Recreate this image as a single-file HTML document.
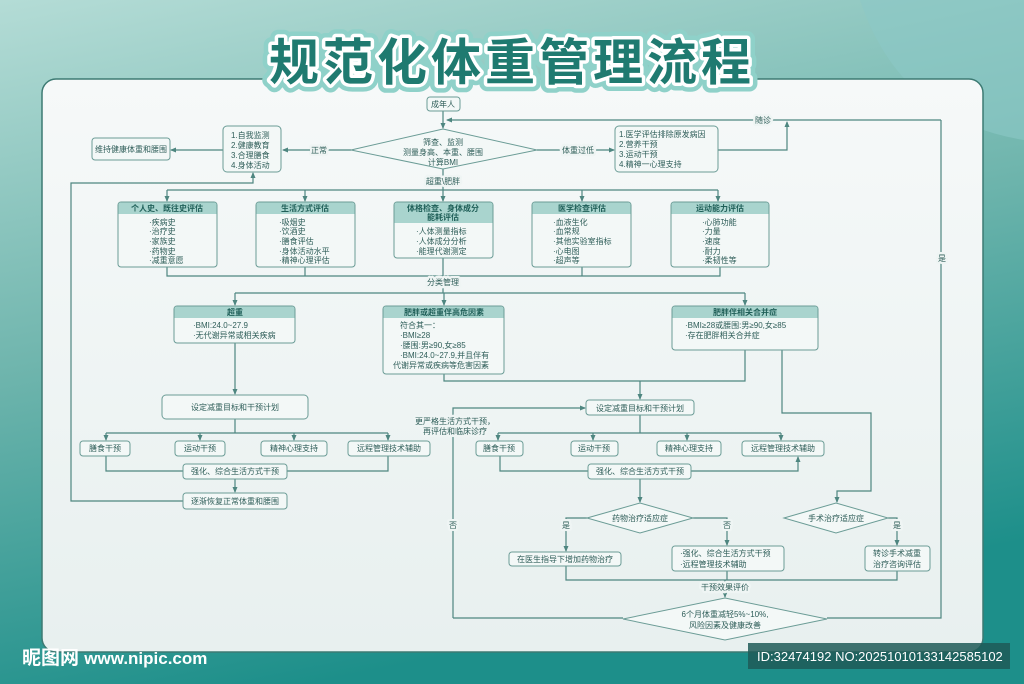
<!DOCTYPE html>
<html><head><meta charset="utf-8">
<style>
html,body{margin:0;padding:0;width:1024px;height:684px;overflow:hidden}
svg text{font-family:"Liberation Sans","Noto Sans CJK SC",sans-serif}
.lb{stroke:#eff5f4;stroke-width:5;paint-order:stroke;stroke-linejoin:round}
</style></head>
<body>
<svg width="1024" height="684" viewBox="0 0 1024 684" xmlns="http://www.w3.org/2000/svg">
<defs>
<linearGradient id="bg" x1="0" y1="0" x2="0.3" y2="1">
<stop offset="0" stop-color="#b4dcd6"/><stop offset="0.5" stop-color="#6fb5ad"/><stop offset="1" stop-color="#1d8f8a"/>
</linearGradient>
<linearGradient id="pn" x1="0" y1="0" x2="0" y2="1">
<stop offset="0" stop-color="#f6f9f9"/><stop offset="1" stop-color="#e8f0ef"/>
</linearGradient>
<marker id="a" viewBox="0 0 6 6" refX="5" refY="3" markerWidth="5" markerHeight="5" orient="auto"><path d="M0,0.5 L6,3 L0,5.5z" fill="#4e8680"/></marker>
</defs>
<rect width="1024" height="684" fill="url(#bg)"/>
<path d="M860 0 Q900 120 1024 140 L1024 0Z" fill="#8cc8c6" opacity="0.6"/>
<rect x="42" y="79" width="941" height="573" rx="14" fill="url(#pn)" stroke="#3d7a73" stroke-width="1.5"/>

<!-- title -->
<g font-size="50" font-weight="bold" text-anchor="middle">
<text x="512" y="80" fill="#2a8f86" stroke="#8fd1c9" stroke-width="16" stroke-linejoin="round" letter-spacing="4">规范化体重管理流程</text>
<text x="512" y="80" fill="#1f7a70" stroke="#ffffff" stroke-width="7" stroke-linejoin="round" paint-order="stroke" letter-spacing="4">规范化体重管理流程</text>
</g>

<g fill="none" stroke="#4e8680" stroke-width="1.2">
<path d="M443 111 V128" marker-end="url(#a)"/>
<path d="M941 120 H447" marker-end="url(#a)"/>
<path d="M351 150 H283" marker-end="url(#a)"/>
<path d="M223 150 H171" marker-end="url(#a)"/>
<path d="M537 150 H614" marker-end="url(#a)"/>
<path d="M718 150 H787 V122" marker-end="url(#a)"/>
<path d="M183 501 H71 V183 H253 V173" marker-end="url(#a)"/>
<path d="M443 169 V190"/>
<path d="M167 190 H718"/>
<path d="M167 190 V201" marker-end="url(#a)"/>
<path d="M305 190 V201" marker-end="url(#a)"/>
<path d="M443 190 V201" marker-end="url(#a)"/>
<path d="M582 190 V201" marker-end="url(#a)"/>
<path d="M718 190 V201" marker-end="url(#a)"/>
<path d="M167 267 V276 H720 V267 M305 267 V276 M443 258 V293 M582 267 V276"/>
<path d="M235 293 H745"/>
<path d="M235 293 V305" marker-end="url(#a)"/>
<path d="M444 293 V305" marker-end="url(#a)"/>
<path d="M745 293 V305" marker-end="url(#a)"/>
<path d="M235 343 V394" marker-end="url(#a)"/>
<path d="M235 419 V433 M106 433 H388"/>
<path d="M106 433 V440" marker-end="url(#a)"/>
<path d="M200 433 V440" marker-end="url(#a)"/>
<path d="M294 433 V440" marker-end="url(#a)"/>
<path d="M388 433 V440" marker-end="url(#a)"/>
<path d="M106 456 V471 H183 M388 456 V471 H287"/>
<path d="M235 479 V492" marker-end="url(#a)"/>
<path d="M444 374 V381 H745 V350"/>
<path d="M640 381 V399" marker-end="url(#a)"/>
<path d="M453 618 V408 H585" marker-end="url(#a)"/>
<path d="M640 415 V433 M498 433 H781"/>
<path d="M498 433 V440" marker-end="url(#a)"/>
<path d="M593 433 V440" marker-end="url(#a)"/>
<path d="M687 433 V440" marker-end="url(#a)"/>
<path d="M781 433 V440" marker-end="url(#a)"/>
<path d="M500 456 V471 H588"/>
<path d="M691 471 H798 V457" marker-end="url(#a)"/>
<path d="M640 479 V502" marker-end="url(#a)"/>
<path d="M782 350 V413 H871 V491 H837 V502" marker-end="url(#a)"/>
<path d="M587 518 H566 V551" marker-end="url(#a)"/>
<path d="M693 518 H727 V545" marker-end="url(#a)"/>
<path d="M888 518 H897 V545" marker-end="url(#a)"/>
<path d="M566 566 V580 H897 V571 M727 571 V580"/>
<path d="M725 580 V597" marker-end="url(#a)"/>
<path d="M623 618 H453"/>
<path d="M827 618 H941 V120"/>
</g>

<g fill="#f3f8f7" stroke="#6b9c96" stroke-width="1">
<rect x="427" y="97" width="33" height="14" rx="3"/>
<rect x="223" y="126" width="58" height="46" rx="4"/>
<rect x="92" y="138" width="78" height="22" rx="3"/>
<rect x="615" y="126" width="103" height="46" rx="4"/>
<rect x="118" y="202" width="99" height="65" rx="3"/>
<rect x="256" y="202" width="99" height="65" rx="3"/>
<rect x="394" y="202" width="99" height="56" rx="3"/>
<rect x="532" y="202" width="99" height="65" rx="3"/>
<rect x="671" y="202" width="98" height="65" rx="3"/>
<rect x="174" y="306" width="121" height="37" rx="3"/>
<rect x="383" y="306" width="121" height="68" rx="3"/>
<rect x="672" y="306" width="146" height="44" rx="3"/>
<rect x="162" y="395" width="146" height="24" rx="4"/>
<rect x="80" y="441" width="50" height="15" rx="3"/>
<rect x="175" y="441" width="50" height="15" rx="3"/>
<rect x="261" y="441" width="66" height="15" rx="3"/>
<rect x="348" y="441" width="82" height="15" rx="3"/>
<rect x="183" y="464" width="104" height="15" rx="3"/>
<rect x="183" y="493" width="104" height="16" rx="3"/>
<rect x="586" y="400" width="108" height="15" rx="3"/>
<rect x="476" y="441" width="47" height="15" rx="3"/>
<rect x="571" y="441" width="47" height="15" rx="3"/>
<rect x="657" y="441" width="64" height="15" rx="3"/>
<rect x="742" y="441" width="82" height="15" rx="3"/>
<rect x="588" y="464" width="103" height="15" rx="3"/>
<rect x="509" y="552" width="112" height="14" rx="3"/>
<rect x="672" y="546" width="112" height="25" rx="3"/>
<rect x="865" y="546" width="65" height="25" rx="3"/>
<polygon points="351,150 443,129 537,150 443,169"/>
<polygon points="587,518 640,503 693,518 640,533"/>
<polygon points="784,518 836,503 888,518 836,533"/>
<polygon points="623,619 725,598 827,619 725,640"/>
</g>
<g fill="#a9d4ce">
<path d="M118.5 214 V205 Q118.5 202.5 121 202.5 H214 Q216.5 202.5 216.5 205 V214Z"/>
<path d="M256.5 214 V205 Q256.5 202.5 259 202.5 H352 Q354.5 202.5 354.5 205 V214Z"/>
<path d="M394.5 223 V205 Q394.5 202.5 397 202.5 H490 Q492.5 202.5 492.5 205 V223Z"/>
<path d="M532.5 214 V205 Q532.5 202.5 535 202.5 H628 Q630.5 202.5 630.5 205 V214Z"/>
<path d="M671.5 214 V205 Q671.5 202.5 674 202.5 H766 Q768.5 202.5 768.5 205 V214Z"/>
<path d="M174.5 318 V309 Q174.5 306.5 177 306.5 H292 Q294.5 306.5 294.5 309 V318Z"/>
<path d="M383.5 318 V309 Q383.5 306.5 386 306.5 H501 Q503.5 306.5 503.5 309 V318Z"/>
<path d="M672.5 318 V309 Q672.5 306.5 675 306.5 H815 Q817.5 306.5 817.5 309 V318Z"/>
</g>

<g font-size="8" fill="#2f5e59" text-anchor="middle">
<text x="443" y="107">成年人</text>
<text x="443" y="145">筛查、监测</text>
<text x="443" y="155">测量身高、本重、腰围</text>
<text x="443" y="165">计算BMI</text>
<text class="lb" x="319" y="153">正常</text>
<text class="lb" x="578" y="153">体重过低</text>
<text class="lb" x="763" y="123">随诊</text>
<text class="lb" x="443" y="184">超重\肥胖</text>
<text x="131" y="152">维持健康体重和腰围</text>
<text class="lb" x="443" y="285">分类管理</text>
<text class="lb" x="942" y="261">是</text>
<text x="235" y="410">设定减重目标和干预计划</text>
<text x="105" y="451">膳食干预</text>
<text x="200" y="451">运动干预</text>
<text x="294" y="451">精神心理支持</text>
<text x="389" y="451">远程管理技术辅助</text>
<text x="235" y="474">强化、综合生活方式干预</text>
<text x="235" y="504">逐渐恢复正常体重和腰围</text>
<text x="640" y="411">设定减重目标和干预计划</text>
<text class="lb" x="455" y="424">更严格生活方式干预，</text>
<text class="lb" x="455" y="434">再评估和临床诊疗</text>
<text x="499" y="451">膳食干预</text>
<text x="594" y="451">运动干预</text>
<text x="689" y="451">精神心理支持</text>
<text x="783" y="451">远程管理技术辅助</text>
<text x="640" y="474">强化、综合生活方式干预</text>
<text x="640" y="521">药物治疗适应症</text>
<text x="836" y="521">手术治疗适应症</text>
<text class="lb" x="566" y="528">是</text>
<text class="lb" x="727" y="528">否</text>
<text class="lb" x="897" y="528">是</text>
<text class="lb" x="453" y="528">否</text>
<text x="565" y="562">在医生指导下增加药物治疗</text>
<text x="897" y="556">转诊手术减重</text>
<text x="897" y="567">治疗咨询评估</text>
<text class="lb" x="725" y="590">干预效果评价</text>
<text x="725" y="617">6个月体重减轻5%~10%,</text>
<text x="725" y="628">风险因素及健康改善</text>
</g>
<g font-size="8" fill="#2f5e59">
<text x="231" y="138">1.自我监测</text>
<text x="231" y="148">2.健康教育</text>
<text x="231" y="158">3.合理膳食</text>
<text x="231" y="168">4.身体活动</text>
<text x="619" y="137">1.医学评估排除原发病因</text>
<text x="619" y="147">2.营养干预</text>
<text x="619" y="157">3.运动干预</text>
<text x="619" y="167">4.精神一心理支持</text>
<text x="149" y="225">·疾病史</text><text x="149" y="234">·治疗史</text><text x="149" y="244">·家族史</text><text x="149" y="254">·药物史</text><text x="149" y="263">·减重意愿</text>
<text x="279" y="225">·吸烟史</text><text x="279" y="234">·饮酒史</text><text x="279" y="244">·膳食评估</text><text x="279" y="254">·身体活动水平</text><text x="279" y="263">·精神心理评估</text>
<text x="416" y="234">·人体测量指标</text><text x="416" y="244">·人体成分分析</text><text x="416" y="254">·能理代谢测定</text>
<text x="553" y="225">·血液生化</text><text x="553" y="234">·血常规</text><text x="553" y="244">·其他实验室指标</text><text x="553" y="254">·心电图</text><text x="553" y="263">·超声等</text>
<text x="702" y="225">·心肺功能</text><text x="702" y="234">·力量</text><text x="702" y="244">·速度</text><text x="702" y="254">·耐力</text><text x="702" y="263">·柔韧性等</text>
<text x="193" y="328">·BMI:24.0~27.9</text><text x="193" y="338">·无代谢异常或相关疾病</text>
<text x="400" y="328">符合其一：</text><text x="400" y="338">·BMI≥28</text><text x="400" y="348">·腰围:男≥90,女≥85</text><text x="400" y="358">·BMI:24.0~27.9,并且伴有</text><text x="393" y="368">代谢异常或疾病等危害因素</text>
<text x="685" y="328">·BMI≥28或腰围:男≥90,女≥85</text><text x="685" y="338">·存在肥胖相关合并症</text>
<text x="680" y="556">·强化、综合生活方式干预</text><text x="680" y="567">·远程管理技术辅助</text>
</g>
<g font-size="8" font-weight="bold" fill="#1f5f58" text-anchor="middle">
<text x="167" y="211">个人史、既往史评估</text>
<text x="305" y="211">生活方式评估</text>
<text x="443" y="211">体格检查、身体成分</text>
<text x="443" y="220">能耗评估</text>
<text x="582" y="211">医学检查评估</text>
<text x="720" y="211">运动能力评估</text>
<text x="235" y="315">超重</text>
<text x="444" y="315">肥胖或超重伴高危因素</text>
<text x="745" y="315">肥胖伴相关合并症</text>
</g>

<text x="22" y="664" font-size="19" font-weight="bold" fill="#ffffff">昵图网 <tspan font-size="17">www.nipic.com</tspan></text>
<rect x="748" y="643" width="262" height="26" fill="#1f5a57" opacity="0.85"/>
<text x="757" y="661" font-size="13" fill="#ffffff">ID:32474192 NO:20251010133142585102</text>
</svg>
</body></html>
